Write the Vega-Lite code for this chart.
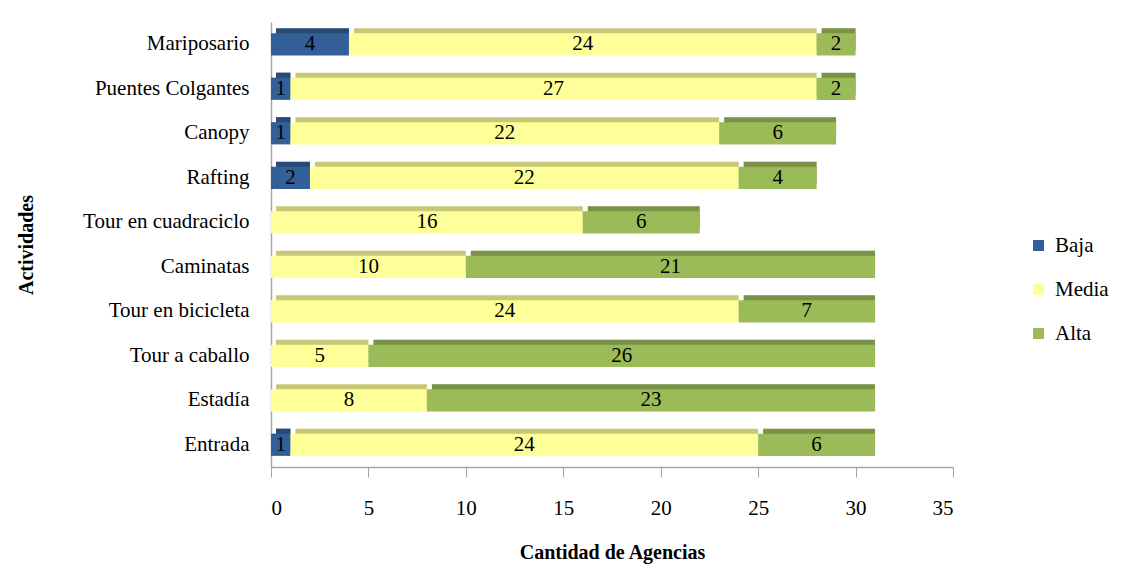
{
  "$schema": "https://vega.github.io/schema/vega-lite/v6.json",
  "autosize": "none",
  "width": 682,
  "height": 445,
  "padding": {"left": 271, "top": 22, "right": 169, "bottom": 100},
  "background": "white",
  "config": {
    "font": "Liberation Serif",
    "view": {"stroke": null},
    "legend": {"labelFont": "Liberation Serif", "titleFont": "Liberation Serif", "labelFontSize": 21},
    "axis": {"labelFont": "Liberation Serif", "titleFont": "Liberation Serif"}
  },
  "data": {
    "values": [
      {"act": "Mariposario", "nivel": "Baja", "o": 1, "v": 4},
      {"act": "Mariposario", "nivel": "Media", "o": 2, "v": 24},
      {"act": "Mariposario", "nivel": "Alta", "o": 3, "v": 2},
      {"act": "Puentes Colgantes", "nivel": "Baja", "o": 1, "v": 1},
      {"act": "Puentes Colgantes", "nivel": "Media", "o": 2, "v": 27},
      {"act": "Puentes Colgantes", "nivel": "Alta", "o": 3, "v": 2},
      {"act": "Canopy", "nivel": "Baja", "o": 1, "v": 1},
      {"act": "Canopy", "nivel": "Media", "o": 2, "v": 22},
      {"act": "Canopy", "nivel": "Alta", "o": 3, "v": 6},
      {"act": "Rafting", "nivel": "Baja", "o": 1, "v": 2},
      {"act": "Rafting", "nivel": "Media", "o": 2, "v": 22},
      {"act": "Rafting", "nivel": "Alta", "o": 3, "v": 4},
      {"act": "Tour en cuadraciclo", "nivel": "Media", "o": 2, "v": 16},
      {"act": "Tour en cuadraciclo", "nivel": "Alta", "o": 3, "v": 6},
      {"act": "Caminatas", "nivel": "Media", "o": 2, "v": 10},
      {"act": "Caminatas", "nivel": "Alta", "o": 3, "v": 21},
      {"act": "Tour en bicicleta", "nivel": "Media", "o": 2, "v": 24},
      {"act": "Tour en bicicleta", "nivel": "Alta", "o": 3, "v": 7},
      {"act": "Tour a caballo", "nivel": "Media", "o": 2, "v": 5},
      {"act": "Tour a caballo", "nivel": "Alta", "o": 3, "v": 26},
      {"act": "Estadía", "nivel": "Media", "o": 2, "v": 8},
      {"act": "Estadía", "nivel": "Alta", "o": 3, "v": 23},
      {"act": "Entrada", "nivel": "Baja", "o": 1, "v": 1},
      {"act": "Entrada", "nivel": "Media", "o": 2, "v": 24},
      {"act": "Entrada", "nivel": "Alta", "o": 3, "v": 6}
    ]
  },
  "transform": [
    {"stack": "v", "groupby": ["act"], "sort": [{"field": "o"}], "as": ["x0", "x1"]},
    {"calculate": "(datum.x0 + datum.x1) / 2", "as": "xm"}
  ],
  "encoding": {
    "y": {
      "field": "act",
      "type": "nominal",
      "sort": ["Mariposario", "Puentes Colgantes", "Canopy", "Rafting", "Tour en cuadraciclo", "Caminatas", "Tour en bicicleta", "Tour a caballo", "Estadía", "Entrada"],
      "scale": {"paddingInner": 0.5, "paddingOuter": 0.25},
      "axis": {
        "title": "Actividades",
        "titleFontSize": 20,
        "titleFontWeight": "bold",
        "titleColor": "black",
        "titlePadding": 46,
        "labelFontSize": 21,
        "labelColor": "black",
        "labelPadding": 22,
        "ticks": false,
        "domainColor": "#a6a6a6",
        "domainWidth": 1.5
      }
    },
    "color": {
      "field": "nivel",
      "type": "nominal",
      "scale": {"domain": ["Baja", "Media", "Alta"], "range": ["#325f97", "#ffff99", "#9bbb59"]},
      "legend": {
        "title": null,
        "orient": "none",
        "legendX": 757,
        "legendY": 213,
        "symbolType": "square",
        "symbolSize": 120,
        "symbolStrokeWidth": 0,
        "labelFont": "Liberation Serif",
        "labelFontSize": 21,
        "labelColor": "black",
        "rowPadding": 22,
        "labelOffset": 6
      }
    }
  },
  "layer": [
    {
      "mark": {"type": "bar", "xOffset": 5, "yOffset": -5},
      "encoding": {
        "x": {"field": "x0", "type": "quantitative"},
        "x2": {"field": "x1"}
      }
    },
    {
      "mark": {"type": "bar", "xOffset": 5, "yOffset": -5, "fill": "black", "opacity": 0.22},
      "encoding": {
        "x": {"field": "x0", "type": "quantitative"},
        "x2": {"field": "x1"},
        "color": {"value": "black"}
      }
    },
    {
      "mark": {"type": "bar"},
      "encoding": {
        "x": {
          "field": "x0",
          "type": "quantitative",
          "scale": {"domain": [0, 35]},
          "axis": {
            "title": "Cantidad de Agencias",
            "titleFontSize": 20,
            "titleFontWeight": "bold",
            "titleColor": "black",
            "titlePadding": 24,
            "values": [0, 5, 10, 15, 20, 25, 30, 35],
            "labelFontSize": 21,
            "labelColor": "black",
            "labelPadding": 20,
            "tickColor": "#a6a6a6",
            "tickSize": 10,
            "domainColor": "#a6a6a6",
            "domainWidth": 1.5,
            "grid": false
          }
        },
        "x2": {"field": "x1"}
      }
    },
    {
      "mark": {"type": "text", "fontSize": 21, "baseline": "middle"},
      "encoding": {
        "x": {"field": "xm", "type": "quantitative"},
        "text": {"field": "v", "type": "quantitative"},
        "color": {"value": "black"}
      }
    }
  ]
}
